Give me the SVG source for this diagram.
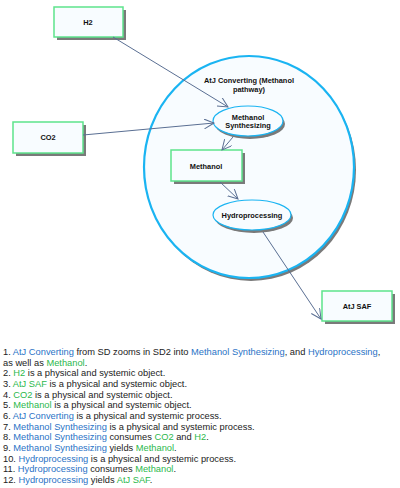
<svg xmlns="http://www.w3.org/2000/svg" width="400" height="488" viewBox="0 0 400 488">
<style>
.obj{fill:#f8fcff;stroke:#5ee38c;stroke-width:1.5}
.sh{fill:#7a7a7a}
.proc{fill:#f8fcff;stroke:#1ab4f2;stroke-width:1.2}
.big{fill:#f8fcff;stroke:#1ab4f2;stroke-width:2.2}
.lbl{font-family:"Liberation Sans",Arial,sans-serif;font-size:7.4px;font-weight:bold;fill:#111;text-anchor:middle}
.con{stroke:#5a6f93;stroke-width:1;fill:none}
.txt{font-family:"Liberation Sans",Arial,sans-serif;font-size:9.3px;fill:#222}
.b{fill:#2a73c6}
.g{fill:#2cb84c}
</style>
<defs>
<marker id="arr" markerWidth="12" markerHeight="12" refX="10" refY="5" orient="auto" markerUnits="userSpaceOnUse">
<path d="M0,0 L10,5 L0,10" fill="none" stroke="#5a6f93" stroke-width="1"/>
</marker>
</defs>
<g id="atj-converting">
<ellipse class="sh" cx="251" cy="170" rx="105" ry="111"/>
<ellipse class="big" cx="249" cy="167" rx="105" ry="111"/>
<text class="lbl" x="249" y="83">AtJ Converting (Methanol</text>
<text class="lbl" x="249" y="91.5">pathway)</text>
</g>
<g id="h2">
<rect class="sh" x="57" y="10" width="69" height="30"/>
<rect class="obj" x="54" y="7" width="69" height="30"/>
<text class="lbl" x="88" y="25">H2</text>
</g>
<g id="co2">
<rect class="sh" x="16" y="125" width="70" height="31"/>
<rect class="obj" x="13" y="122" width="70" height="31"/>
<text class="lbl" x="48" y="140">CO2</text>
</g>
<g id="methanol-synthesizing">
<ellipse class="sh" cx="250" cy="124" rx="35" ry="15"/>
<ellipse class="proc" cx="248" cy="121" rx="35" ry="15"/>
<text class="lbl" x="248" y="119.5">Methanol</text>
<text class="lbl" x="248" y="127.5">Synthesizing</text>
</g>
<g id="methanol">
<rect class="sh" x="174" y="153" width="71" height="31"/>
<rect class="obj" x="171" y="150" width="71" height="31"/>
<text class="lbl" x="206" y="168.5">Methanol</text>
</g>
<g id="hydroprocessing">
<ellipse class="sh" cx="254" cy="218" rx="39" ry="15"/>
<ellipse class="proc" cx="252" cy="215" rx="39" ry="15"/>
<text class="lbl" x="252" y="218">Hydroprocessing</text>
</g>
<g id="atj-saf">
<rect class="sh" x="325" y="294" width="70" height="30"/>
<rect class="obj" x="322" y="291" width="70" height="30"/>
<text class="lbl" x="357" y="308.5">AtJ SAF</text>
</g>
<g id="connectors">
<line class="con" x1="113" y1="37" x2="228" y2="107" marker-end="url(#arr)"/>
<line class="con" x1="83" y1="135" x2="214" y2="123" marker-end="url(#arr)"/>
<line class="con" x1="233" y1="137" x2="222" y2="150" marker-end="url(#arr)"/>
<line class="con" x1="220" y1="182" x2="238" y2="199" marker-end="url(#arr)"/>
<line class="con" x1="263" y1="232" x2="321" y2="319" marker-end="url(#arr)"/>
</g>
<g id="description" class="txt" xml:space="preserve">
<text x="3" y="355">1. <tspan class="b">AtJ Converting</tspan> from SD zooms in SD2 into <tspan class="b">Methanol Synthesizing</tspan>,  and <tspan class="b">Hydroprocessing</tspan>,</text>
<text x="3" y="365.7">as well as  <tspan class="g">Methanol</tspan>.</text>
<text x="3" y="376.3">2. <tspan class="g">H2</tspan> is a physical and systemic object.</text>
<text x="3" y="387">3. <tspan class="g">AtJ SAF</tspan> is a physical and systemic object.</text>
<text x="3" y="397.7">4. <tspan class="g">CO2</tspan> is a physical and systemic object.</text>
<text x="3" y="408.3">5. <tspan class="g">Methanol</tspan> is a physical and systemic object.</text>
<text x="3" y="419">6. <tspan class="b">AtJ Converting</tspan> is a physical and systemic process.</text>
<text x="3" y="429.7">7. <tspan class="b">Methanol Synthesizing</tspan> is a physical and systemic process.</text>
<text x="3" y="440.3">8. <tspan class="b">Methanol Synthesizing</tspan> consumes <tspan class="g">CO2</tspan> and <tspan class="g">H2</tspan>.</text>
<text x="3" y="451">9. <tspan class="b">Methanol Synthesizing</tspan> yields <tspan class="g">Methanol</tspan>.</text>
<text x="3" y="461.7">10. <tspan class="b">Hydroprocessing</tspan> is a physical and systemic process.</text>
<text x="3" y="472.3">11. <tspan class="b">Hydroprocessing</tspan> consumes <tspan class="g">Methanol</tspan>.</text>
<text x="3" y="483">12. <tspan class="b">Hydroprocessing</tspan> yields <tspan class="g">AtJ SAF</tspan>.</text>
</g>
</svg>
